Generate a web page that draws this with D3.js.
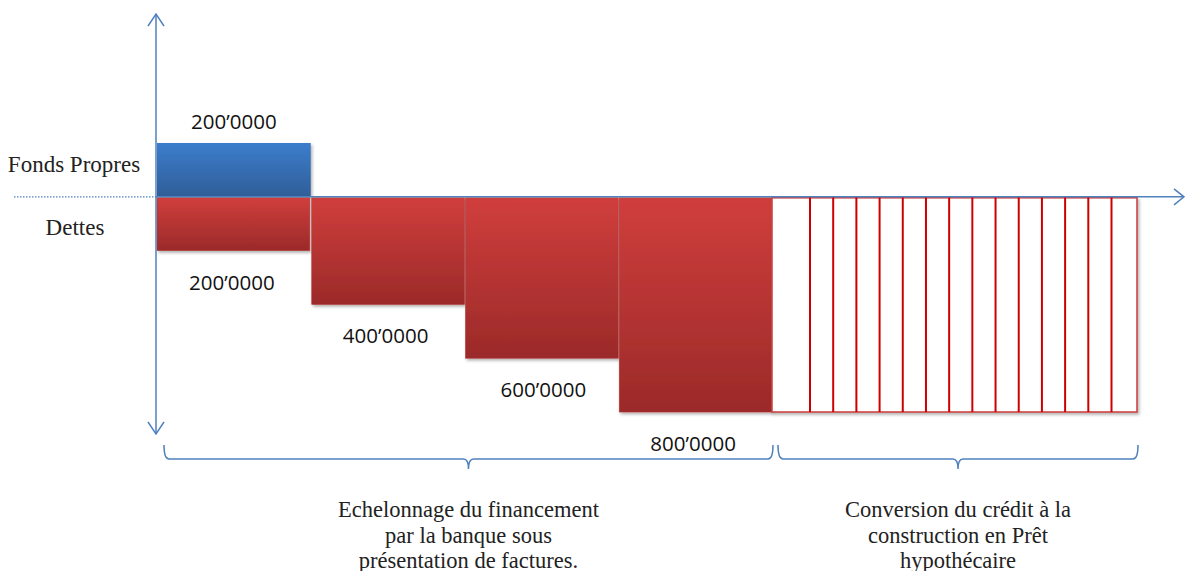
<!DOCTYPE html>
<html>
<head>
<meta charset="utf-8">
<script src="https://cdn.jsdelivr.net/npm/d3@7"></script>
<style>
  body { margin: 0; background: #fff; }
</style>
</head>
<body>
<div id="chart"></div>
<script>
// data
const equity = [200];
const debts = [200, 400, 600, 800];
const debtLabels = ["200\u20190000", "400\u20190000", "600\u20190000", "800\u20190000"];
const equityLabel = "200\u20190000";
const hatchCount = 14;
const sideLabels = ["Fonds Propres", "Dettes"];
const phase1Text = ["Echelonnage du financement", "par la banque sous", "présentation de factures."];
const phase2Text = ["Conversion du crédit à la", "construction en Prêt", "hypothécaire"];

const width = 1186, height = 571;
const blue = "#4f81bd";

let svg = d3.select("#chart")
    .append("svg")
    .attr("width", width)
    .attr("height", height);

let defs = svg.append("defs");
function grad(id, top, bottom) {
    let g = defs.append("linearGradient").attr("id", id)
        .attr("x1", 0).attr("y1", 0).attr("x2", 0).attr("y2", 1);
    g.append("stop").attr("offset", "0%").attr("stop-color", top);
    g.append("stop").attr("offset", "100%").attr("stop-color", bottom);
}
grad("gBlue", "#3c7dcc", "#2f5e98");
grad("gRed", "#d03e3c", "#9b2a29");
let f = defs.append("filter").attr("id", "shadow").attr("x", "-10%").attr("y", "-10%").attr("width", "130%").attr("height", "130%");
f.append("feDropShadow").attr("dx", 1.5).attr("dy", 2).attr("stdDeviation", 1.5).attr("flood-color", "#000").attr("flood-opacity", 0.3);

// scales: x in phase steps, y in amount (negative = equity above axis)
let x = d3.scaleLinear().domain([0, 4]).range([157, 772]);
let y = d3.scaleLinear().domain([-200, 800]).range([143, 412]);
const convEnd = 6.374;

// dotted separator on the left
svg.append("line")
    .attr("x1", 14).attr("x2", x(0)).attr("y1", y(0)).attr("y2", y(0))
    .attr("stroke", blue).attr("stroke-width", 1.2).attr("stroke-dasharray", "1.5,1.5");

// equity bar
svg.selectAll("rect.eq").data(equity).enter()
    .append("rect").attr("class", "eq")
    .attr("x", (d, i) => x(i))
    .attr("y", d => y(-d))
    .attr("width", x(1) - x(0))
    .attr("height", d => y(0) - y(-d))
    .attr("fill", "url(#gBlue)")
    .attr("filter", "url(#shadow)");

// debt bars
svg.selectAll("rect.debt").data(debts).enter()
    .append("rect").attr("class", "debt")
    .attr("x", (d, i) => x(i) + (i > 0 ? 1 : 0))
    .attr("y", y(0) + 1)
    .attr("width", x(1) - x(0) - 1)
    .attr("height", d => y(d) - y(0) - 1)
    .attr("fill", "url(#gRed)")
    .attr("stroke", "#b53533").attr("stroke-width", 0.6)
    .attr("filter", "url(#shadow)");

// conversion (hatched) block
let last = debts[debts.length - 1];
svg.append("rect")
    .attr("x", x(4)).attr("y", y(0) + 1)
    .attr("width", x(convEnd) - x(4))
    .attr("height", y(last) - y(0) - 1)
    .attr("fill", "#fff")
    .attr("stroke", "#cc4444").attr("stroke-width", 1.6)
    .attr("filter", "url(#shadow)");
let hx = d3.scaleLinear().domain([0, hatchCount - 1]).range([810, 1111.5]);
svg.selectAll("line.hatch").data(d3.range(hatchCount)).enter()
    .append("line").attr("class", "hatch")
    .attr("x1", d => hx(d)).attr("x2", d => hx(d))
    .attr("y1", y(0)).attr("y2", y(last))
    .attr("stroke", "#cc0000").attr("stroke-width", 2);

// axes with open arrowheads
svg.append("line")
    .attr("x1", x(0) - 1).attr("x2", 1184).attr("y1", y(0)).attr("y2", y(0))
    .attr("stroke", blue).attr("stroke-width", 1.5);
svg.append("path").attr("d", `M1174,${y(0) - 8}L1184,${y(0)}L1174,${y(0) + 8}`)
    .attr("fill", "none").attr("stroke", blue).attr("stroke-width", 1.5);
svg.append("line")
    .attr("x1", x(0) - 1).attr("x2", x(0) - 1).attr("y1", 14).attr("y2", 434)
    .attr("stroke", blue).attr("stroke-width", 1.5);
svg.append("path").attr("d", `M${x(0) - 9},26L${x(0) - 1},14L${x(0) + 7},26`)
    .attr("fill", "none").attr("stroke", blue).attr("stroke-width", 1.5);
svg.append("path").attr("d", `M${x(0) - 9},422L${x(0) - 1},434L${x(0) + 7},422`)
    .attr("fill", "none").attr("stroke", blue).attr("stroke-width", 1.5);

// value labels
const numFont = "'Open Sans', 'Noto Sans', sans-serif";
svg.append("text")
    .attr("x", (x(0) + x(1)) / 2).attr("y", y(-equity[0]) - 14)
    .attr("text-anchor", "middle").style("font-family", numFont).style("font-size", "20.5px")
    .attr("fill", "#111").text(equityLabel);
const labelShift = [-2, -2, 2, -2];
svg.selectAll("text.dl").data(debts).enter()
    .append("text").attr("class", "dl")
    .attr("x", (d, i) => (x(i) + x(i + 1)) / 2 + labelShift[i])
    .attr("y", d => y(d) + 39)
    .attr("text-anchor", "middle").style("font-family", numFont).style("font-size", "20.5px")
    .attr("fill", "#111").text((d, i) => debtLabels[i]);

// side labels
const serif = "'Liberation Serif', 'DejaVu Serif', serif";
svg.append("text").attr("x", 74).attr("y", 172).attr("text-anchor", "middle")
    .style("font-family", serif).style("font-size", "23px").attr("fill", "#222").text(sideLabels[0]);
svg.append("text").attr("x", 75).attr("y", 235).attr("text-anchor", "middle")
    .style("font-family", serif).style("font-size", "23px").attr("fill", "#222").text(sideLabels[1]);

// braces
function brace(x0, x1, yMid, tipY) {
    let m = (x0 + x1) / 2, r = 5;
    return `M${x0},${tipY}Q${x0},${yMid} ${x0 + r},${yMid}L${m - r},${yMid}Q${m},${yMid} ${m},${yMid + 10}` +
        `Q${m},${yMid} ${m + r},${yMid}L${x1 - r},${yMid}Q${x1},${yMid} ${x1},${tipY}`;
}
svg.append("path").attr("d", brace(x(0) + 7, x(4) + 1, 459, 445))
    .attr("fill", "none").attr("stroke", blue).attr("stroke-width", 1.5);
svg.append("path").attr("d", brace(x(4) + 6, x(convEnd) + 1, 459, 445))
    .attr("fill", "none").attr("stroke", blue).attr("stroke-width", 1.5);

// phase captions
function caption(lines, cx) {
    svg.append("g").selectAll("text").data(lines).enter()
        .append("text")
        .attr("x", cx).attr("y", (d, i) => 517 + i * 25.5)
        .attr("text-anchor", "middle")
        .style("font-family", serif).style("font-size", "22.5px")
        .attr("fill", "#222").text(d => d);
}
caption(phase1Text, (x(0) + 7 + x(4) + 1) / 2);
caption(phase2Text, (x(4) + 6 + x(convEnd) + 1) / 2);
</script>
</body>
</html>
